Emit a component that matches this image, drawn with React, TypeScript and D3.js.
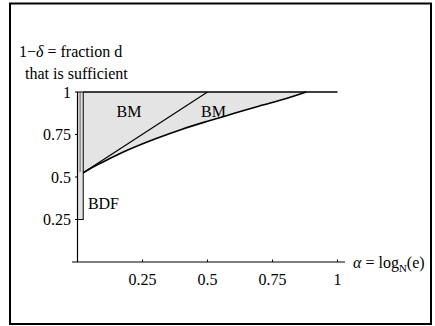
import React from 'react';
import * as d3 from 'd3';

// lower boundary of the BM region (alpha, 1 - delta)
const lowerAlpha = [0.022, 0.05, 0.1, 0.15, 0.2, 0.3, 0.4, 0.5, 0.6, 0.7, 0.8, 0.88];
const lowerValue = [0.525, 0.55, 0.59, 0.628, 0.663, 0.725, 0.78, 0.828, 0.873, 0.918, 0.96, 1.0];

// straight BM boundary
const upperAlpha = [0.022, 0.5];
const upperValue = [0.525, 1.0];

// BDF strip
const bdfAlpha = [0.0, 0.022];
const bdfValue = [0.25, 1.0];

const xTicks = [0.25, 0.5, 0.75, 1];
const yTicks = [0.25, 0.5, 0.75, 1];
const xTickLabels = ['0.25', '0.5', '0.75', '1'];
const yTickLabels = ['0.25', '0.5', '0.75', '1'];

const regionLabels = [
  { text: 'BM', a: 0.15, v: 0.855 },
  { text: 'BM', a: 0.475, v: 0.855 },
  { text: 'BDF', a: 0.04, v: 0.31 },
];

const width = 435;
const height = 326;
const font = '"Liberation Serif", "Times New Roman", serif';

export default function App() {
  const x = d3.scaleLinear().domain([0, 1]).range([77.5, 337.5]);
  const y = d3.scaleLinear().domain([0, 1]).range([262, 92]);

  const lower = lowerAlpha.map((a, i) => [a, lowerValue[i]] as [number, number]);
  const upper = upperAlpha.map((a, i) => [a, upperValue[i]] as [number, number]);

  const line = d3.line<[number, number]>()
    .x(d => x(d[0]))
    .y(d => y(d[1]))
    .curve(d3.curveMonotoneX);

  // shaded BM region: top edge at 1, bottom along the lower curve
  const area = d3.area<[number, number]>()
    .x(d => x(d[0]))
    .y0(d => y(d[1]))
    .y1(() => y(1))
    .curve(d3.curveMonotoneX);

  return (
    <svg width={width} height={height} style={{ position: 'absolute', left: 0, top: 0 }}
      fontFamily={font} fontSize={16}>
      <rect x={0} y={0} width={width} height={height} fill="#fff" />
      <rect x={10} y={3.5} width={421} height={320.5} fill="none" stroke="#000" strokeWidth={2} />

      {/* shaded regions */}
      <path d={area(lower) ?? ''} fill="#e4e4e4" stroke="none" />
      <rect x={x(bdfAlpha[0])} y={y(bdfValue[1])} width={x(bdfAlpha[1]) - x(bdfAlpha[0])}
        height={y(bdfValue[0]) - y(bdfValue[1])} fill="#e4e4e4" stroke="#000" strokeWidth={1} />
      <line x1={x(0.01)} x2={x(0.01)} y1={y(0.53)} y2={y(1)} stroke="#000" strokeWidth={0.6} />

      {/* boundaries */}
      <line x1={x(bdfAlpha[1])} x2={x(1)} y1={y(1)} y2={y(1)} stroke="#000" strokeWidth={1.6} />
      <path d={line(lower) ?? ''} fill="none" stroke="#000" strokeWidth={1.6} />
      <path d={line(upper) ?? ''} fill="none" stroke="#000" strokeWidth={1.2} />

      {/* axes */}
      <line x1={72} x2={345} y1={y(0)} y2={y(0)} stroke="#000" strokeWidth={1.2} />
      <line x1={x(0)} x2={x(0)} y1={y(0)} y2={y(1)} stroke="#000" strokeWidth={1.2} />
      {xTicks.map((t, i) => (
        <g key={'x' + i}>
          <line x1={x(t)} x2={x(t)} y1={y(0)} y2={y(0) - 2.5} stroke="#000" strokeWidth={1} />
          <text x={x(t)} y={285} textAnchor="middle">{xTickLabels[i]}</text>
        </g>
      ))}
      {yTicks.map((t, i) => (
        <g key={'y' + i}>
          <line x1={x(0)} x2={x(0) - 2.5} y1={y(t)} y2={y(t)} stroke="#000" strokeWidth={1} />
          <text x={71} y={y(t) + 5.5} textAnchor="end">{yTickLabels[i]}</text>
        </g>
      ))}

      {/* region labels */}
      {regionLabels.map((r, i) => (
        <text key={'r' + i} x={x(r.a)} y={y(r.v)}>{r.text}</text>
      ))}

      {/* axis titles */}
      <text x={353} y={268}>
        <tspan fontStyle="italic">α</tspan> = log
        <tspan fontSize={11} dy={4}>N</tspan>
        <tspan dy={-4}>(e)</tspan>
      </text>
      <text x={19} y={57}>1−<tspan fontStyle="italic">δ</tspan> = fraction d</text>
      <text x={25} y={79}>that is sufficient</text>
    </svg>
  );
}
